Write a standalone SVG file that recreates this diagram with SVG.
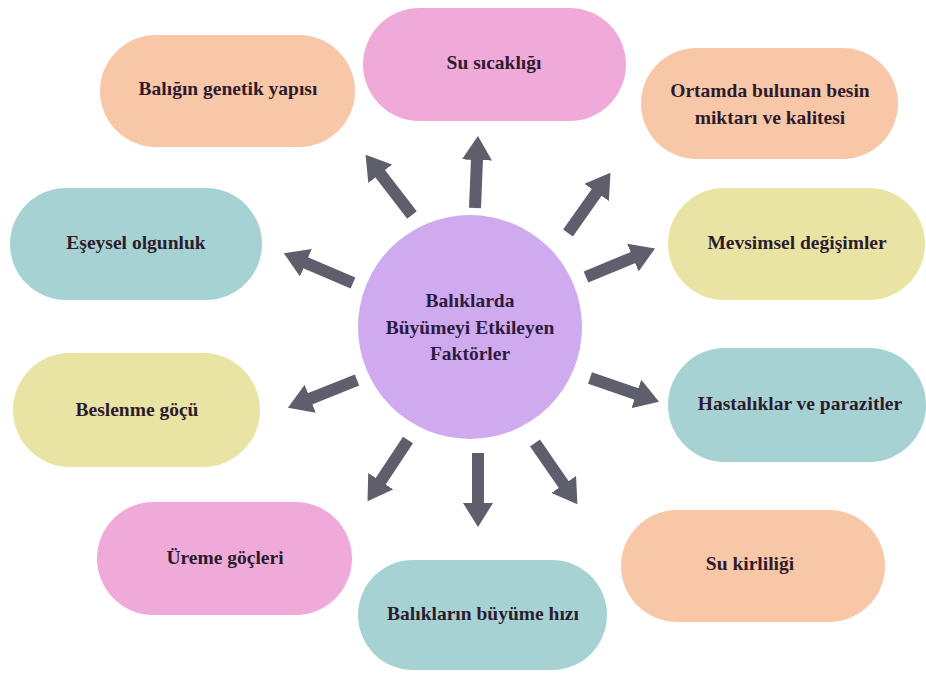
<svg xmlns="http://www.w3.org/2000/svg" width="926" height="673" viewBox="0 0 926 673">
<style>
  .peach{fill:#F8C7A8}
  .teal{fill:#A7D2D3}
  .pink{fill:#EFAADA}
  .yellow{fill:#E9E3A4}
  .center{fill:#CFAAEE}
  .lbl{font-family:"Liberation Serif",serif;font-weight:bold;font-size:19.5px;fill:#2D1B2D;text-anchor:middle;dominant-baseline:central}
  #center-node .lbl{fill:#2D1B3D}
  .arr{stroke:#5E5E6C;stroke-width:12;fill:none;marker-end:url(#head)}
</style>
<defs>
  <marker id="head" viewBox="0 0 24 30" markerUnits="userSpaceOnUse" markerWidth="24" markerHeight="30" refX="1" refY="15" orient="auto">
    <path d="M0,0 L24,15 L0,30 Z" fill="#5E5E6C"/>
  </marker>
</defs>
<rect width="926" height="673" fill="#FFFFFF"/>
<g id="connectors">
  <line class="arr" x1="412" y1="215" x2="379.6" y2="173"/>
  <line class="arr" x1="353" y1="283" x2="305" y2="262.4"/>
  <line class="arr" x1="475" y1="208" x2="477" y2="159"/>
  <line class="arr" x1="568" y1="233" x2="597.2" y2="191.6"/>
  <line class="arr" x1="586" y1="277" x2="633.8" y2="257.2"/>
  <line class="arr" x1="590" y1="378" x2="637.3" y2="394.2"/>
  <line class="arr" x1="535" y1="443" x2="564.3" y2="485.3"/>
  <line class="arr" x1="478" y1="453" x2="478" y2="504"/>
  <line class="arr" x1="408" y1="440" x2="380.2" y2="482"/>
  <line class="arr" x1="357" y1="380" x2="309.3" y2="399.1"/>
</g>
<g id="center-node">
  <circle class="center" cx="470" cy="327" r="112"/>
  <text class="lbl" x="470" y="300">Balıklarda</text>
  <text class="lbl" x="470" y="327">Büyümeyi Etkileyen</text>
  <text class="lbl" x="470" y="353">Faktörler</text>
</g>
<g id="node-genetik">
  <rect class="peach" x="100" y="35" width="255" height="112" rx="56"/>
  <text class="lbl" x="228" y="88">Balığın genetik yapısı</text>
</g>
<g id="node-su-sicakligi">
  <rect class="pink" x="363" y="8" width="263" height="113" rx="56.5"/>
  <text class="lbl" x="494" y="62">Su sıcaklığı</text>
</g>
<g id="node-besin">
  <rect class="peach" x="641" y="48" width="257" height="111" rx="55.5"/>
  <text class="lbl" x="770" y="90">Ortamda bulunan besin</text>
  <text class="lbl" x="770" y="117">miktarı ve kalitesi</text>
</g>
<g id="node-esey">
  <rect class="teal" x="10" y="188" width="252" height="112" rx="56"/>
  <text class="lbl" x="136" y="242">Eşeysel olgunluk</text>
</g>
<g id="node-mevsim">
  <rect class="yellow" x="668" y="188" width="257" height="112" rx="56"/>
  <text class="lbl" x="797" y="242">Mevsimsel değişimler</text>
</g>
<g id="node-beslenme">
  <rect class="yellow" x="13" y="353" width="247" height="114" rx="57"/>
  <text class="lbl" x="137" y="409">Beslenme göçü</text>
</g>
<g id="node-hastalik">
  <rect class="teal" x="668" y="348" width="258" height="114" rx="57"/>
  <text class="lbl" x="800" y="403">Hastalıklar ve parazitler</text>
</g>
<g id="node-ureme">
  <rect class="pink" x="97" y="502" width="255" height="113" rx="56.5"/>
  <text class="lbl" x="225" y="557">Üreme göçleri</text>
</g>
<g id="node-kirlilik">
  <rect class="peach" x="621" y="510" width="264" height="112" rx="56"/>
  <text class="lbl" x="750" y="563">Su kirliliği</text>
</g>
<g id="node-buyume">
  <rect class="teal" x="358" y="560" width="249" height="110" rx="55"/>
  <text class="lbl" x="483" y="613">Balıkların büyüme hızı</text>
</g>
</svg>
